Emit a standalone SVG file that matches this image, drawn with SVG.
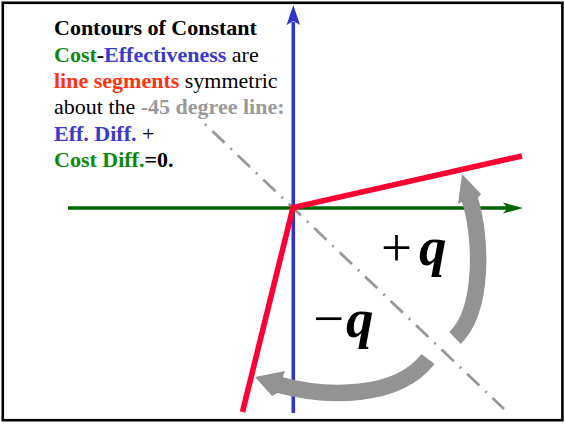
<svg xmlns="http://www.w3.org/2000/svg" width="565" height="424" viewBox="0 0 565 424">
<style>
  .t { font-family: "Liberation Serif", "Times New Roman", serif; font-size: 22px; fill: #000; }
  .b { font-weight: bold; }
  .green { fill: #0a8a0a; }
  .blue { fill: #3a3acc; }
  .red { fill: #ff3311; }
  .gray { fill: #999999; }
  .big { font-family: "Liberation Serif", "Times New Roman", serif; font-size: 55px; fill: #000; }
  .q { font-style: italic; font-weight: bold; }
  .curve { fill: none; stroke: #939393; stroke-width: 16.5; stroke-linecap: butt; }
  .head { fill: #939393; }
</style>
<rect x="0" y="0" width="565" height="424" fill="#ffffff"/>
<rect id="frame" x="2.8" y="2.8" width="559.6" height="417.4" fill="none" stroke="#000" stroke-width="2.6"/>

<g id="diagonal">
  <line x1="205" y1="124" x2="504" y2="409" stroke="#999999" stroke-width="2.8" stroke-dasharray="2,8,17,8.2"/>
</g>

<g id="x-axis">
  <line x1="68" y1="208" x2="508" y2="208" stroke="#006600" stroke-width="3.6"/>
  <polygon points="523,208 503,202.5 507.5,208 503,213.5" fill="#006600"/>
</g>

<g id="y-axis">
  <line x1="293.3" y1="413" x2="293.3" y2="22" stroke="#3333cc" stroke-width="3.6"/>
  <polygon points="293.3,5 300,25 293.3,21 286.6,25" fill="#3333cc"/>
</g>

<g id="contour">
  <polyline points="242.5,412 293,207.5 522,156" fill="none" stroke="#ff0033" stroke-width="5.6" stroke-linejoin="miter"/>
</g>

<g id="connectors">
  <path class="curve" d="M455,338 C484,310 482,237 469.4,198"/>
  <polygon class="head" points="462,174 481,194 477.5,198.5 462.5,201.5 458,204"/>
  <path class="curve" d="M428,359 C397,399 326.5,398 278,384.5"/>
  <polygon class="head" points="255,377 285,371 282.5,378 278.5,392.5 272,396"/>
</g>

<g id="label-plus">
  <text class="big" x="381" y="266">+</text>
  <text class="big q" x="419" y="265">q</text>
</g>
<g id="label-minus">
  <text class="big" x="313" y="337">−</text>
  <text class="big q" x="346" y="337">q</text>
</g>

<g id="caption">
  <text class="t b" x="54" y="35">Contours of Constant</text>
  <text class="t" x="54" y="61.5"><tspan class="b green">Cost</tspan><tspan class="b">-</tspan><tspan class="b blue">Effectiveness</tspan> are</text>
  <text class="t" x="54" y="88"><tspan class="b red">line segments</tspan> symmetric</text>
  <text class="t" x="54" y="114">about the <tspan class="b gray">-45 degree line:</tspan></text>
  <text class="t" x="54" y="140.5"><tspan class="b blue">Eff. Diff.</tspan> +</text>
  <text class="t" x="54" y="166.5"><tspan class="b green">Cost Diff.</tspan><tspan class="b">=0.</tspan></text>
</g>
</svg>
